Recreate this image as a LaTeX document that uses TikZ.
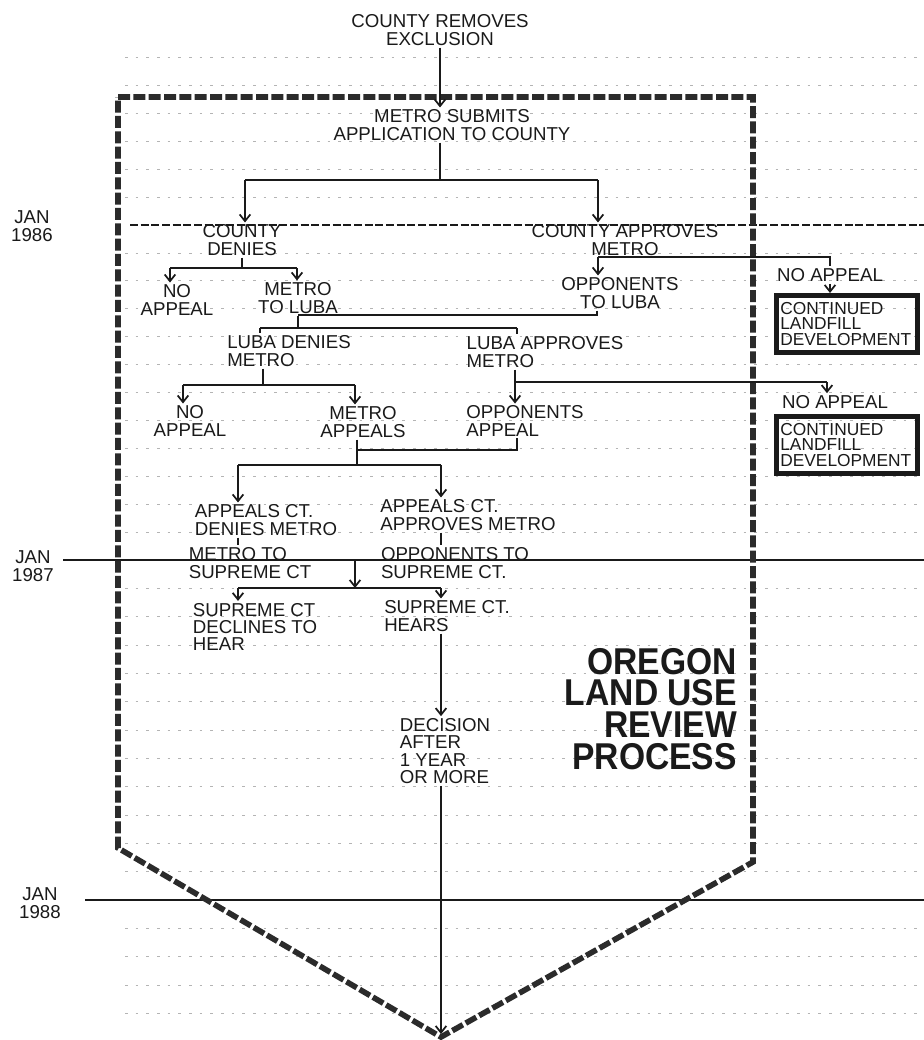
\documentclass[tikz,border=0pt]{standalone}
\usepackage{fontspec}
\setmainfont{Liberation Sans}
\newfontfamily\titfont[FakeStretch=0.9]{Liberation Sans}
\usetikzlibrary{arrows.meta,calc}
\definecolor{ctinta}{HTML}{1A1A1A}
\definecolor{cborde}{HTML}{2B2B2B}
\definecolor{cmes}{HTML}{B4B4B4}
\tikzset{
  rotulo/.style={font=\fontsize{14}{13}\selectfont,align=center,inner sep=1.5pt,text=ctinta},
  rotuloi/.style={rotulo,align=left},
  caja/.style={draw=ctinta,line width=3.5pt,font=\fontsize{13}{11.5}\selectfont,align=left,
               text width=100pt,inner sep=3pt,minimum height=43pt,text=ctinta},
  flecha/.style={-{Straight Barb[length=5pt,width=8pt]},draw=ctinta,line width=1.3pt},
  linea/.style={draw=ctinta,line width=1.3pt},
  borde/.style={draw=cborde,line width=4.2pt,dash pattern=on 9pt off 2.5pt},
  anio/.style={draw=ctinta,line width=0.8pt},
  aniod/.style={anio,dash pattern=on 6pt off 2pt},
  mes/.style={draw=cmes,line width=0.5pt,dash pattern=on 2pt off 6pt},
  titulo/.style={font=\titfont\bfseries\fontsize{28}{23.8}\selectfont,align=right,
                 inner sep=0pt,text=ctinta},
}
\begin{document}
\begin{tikzpicture}[x=0.75pt,y=-0.75pt]
\useasboundingbox (0,0) rectangle (924,1040);
\fill[white] (0,0) rectangle (924,1040);

% lineas de meses
\foreach \m in {1,...,6} {\draw[mes] (125,{225-27.9*\m}) -- (924,{225-27.9*\m});}
\foreach \m in {1,...,11} {\draw[mes] (125,{225+27.9*\m}) -- (924,{225+27.9*\m});}
\foreach \m in {1,...,11} {\draw[mes] (125,{560+28.33*\m}) -- (924,{560+28.33*\m});}
\foreach \m in {1,...,4} {\draw[mes] (125,{900+28.3*\m}) -- (924,{900+28.3*\m});}

% anios
\node[rotulo] (e86) at (32,226) {JAN\\1986};
\node[rotulo] (e87) at (33,566) {JAN\\1987};
\node[rotulo] (e88) at (40,903) {JAN\\1988};
\draw[aniod] (130,225) -- (924,225);
\draw[anio] (63,560) -- (924,560);
\draw[anio] (85,900) -- (924,900);

% contorno
\draw[borde] (118,97) -- (753,97) -- (753,862) -- (441,1037) -- (118,848) -- cycle;

% nodos
\node[rotulo] (rem) at (440,30) {COUNTY REMOVES\\EXCLUSION};
\node[rotulo] (sub) at (452,125) {METRO SUBMITS\\APPLICATION TO COUNTY};
\node[rotulo] (den) at (242,240) {COUNTY\\DENIES};
\node[rotulo] (app) at (625,240) {COUNTY APPROVES\\METRO};
\node[rotulo] (na1) at (177,300) {NO\\APPEAL};
\node[rotulo] (mtl) at (298,298) {METRO\\TO LUBA};
\node[rotulo] (opp) at (620,293) {OPPONENTS\\TO LUBA};
\node[rotulo] (na2) at (830,275) {NO APPEAL};
\node[caja] (cld1) at (847,324) {CONTINUED\\LANDFILL\\DEVELOPMENT};
\node[rotuloi] (ld) at (289,351) {LUBA DENIES\\METRO};
\node[rotuloi] (la) at (545,352) {LUBA APPROVES\\METRO};
\node[rotulo] (na3) at (190,421) {NO\\APPEAL};
\node[rotulo] (ma) at (363,422) {METRO\\APPEALS};
\node[rotuloi] (oa) at (525,421) {OPPONENTS\\APPEAL};
\node[rotulo] (na4) at (835,402) {NO APPEAL};
\node[caja] (cld2) at (847,445) {CONTINUED\\LANDFILL\\DEVELOPMENT};
\node[rotuloi] (acd) at (266,520) {APPEALS CT.\\DENIES METRO};
\node[rotuloi] (aca) at (468,515) {APPEALS CT.\\APPROVES METRO};
\node[rotuloi] (mts) at (250,563) {METRO TO\\SUPREME CT};
\node[rotuloi] (ots) at (455,563) {OPPONENTS TO\\SUPREME CT.};
\node[rotuloi] (scd) at (255,627) {SUPREME CT\\DECLINES TO\\HEAR};
\node[rotuloi] (sch) at (447,616) {SUPREME CT.\\HEARS};
\node[rotuloi] (dec) at (445,751) {DECISION\\AFTER\\1 YEAR\\OR MORE};
\node[titulo,anchor=east] (tit) at (737,709) {OREGON\\LAND USE\\REVIEW\\PROCESS};

% puntos de union
\coordinate (j1) at (440,180);
\coordinate (j1a) at (245,180);
\coordinate (j1b) at (598,180);
\coordinate (j2) at (598,257);
\coordinate (j3a) at (170,268);
\coordinate (j3b) at (297,268);
\coordinate (j4) at (597,315);
\coordinate (j5) at (298,328);
\coordinate (j5a) at (260,328);
\coordinate (j5b) at (517,328);
\coordinate (j6) at (263,385);
\coordinate (j6a) at (183,385);
\coordinate (j6b) at (355,385);
\coordinate (j7) at (515,382);
\coordinate (j7b) at (827,382);
\coordinate (j8) at (517,450);
\coordinate (j9) at (357,450);
\coordinate (j10) at (357,465);
\coordinate (j10a) at (238,465);
\coordinate (j10b) at (441,465);
\coordinate (j11) at (355,560);
\coordinate (j12) at (355,588);
\coordinate (j12a) at (238,588);
\coordinate (j12b) at (441,588);
\coordinate (apex) at (441,1034);

% conectores
\draw[flecha] (rem.south) -- (rem.south |- sub.north);
\draw[linea] (sub.south -| j1) -- (j1);
\draw[linea] (j1a) -- (j1b);
\draw[flecha] (j1a) -- (j1a |- den.north);
\draw[flecha] (j1b) -- (j1b |- app.north);

\draw[linea] (app.south -| j2) -- (j2);
\draw[flecha] (j2) -- (j2 |- opp.north);
\draw[linea] (j2) -- (j2 -| na2.north) -- (na2.north);
\draw[flecha] (na2.south) -- (na2.south |- cld1.north);

\draw[linea] (den.south) -- (den.south |- j3a);
\draw[linea] (j3a) -- (j3b);
\draw[flecha] (j3a) -- (j3a |- na1.north);
\draw[flecha] (j3b) -- (j3b |- mtl.north);

\draw[linea] (opp.south -| j4) -- (j4) -- (j4 -| mtl.south);
\draw[linea] (mtl.south) -- (j5);
\draw[linea] (j5a) -- (j5b);
\draw[linea] (j5a) -- (j5a |- ld.north);
\draw[linea] (j5b) -- (j5b |- la.north);

\draw[linea] (ld.south -| j6) -- (j6);
\draw[linea] (j6a) -- (j6b);
\draw[flecha] (j6a) -- (j6a |- na3.north);
\draw[flecha] (j6b) -- (j6b |- ma.north);

\draw[linea] (la.south -| j7) -- (j7) -- (j7b);
\draw[flecha] (j7) -- (j7 |- oa.north);
\draw[flecha] (j7b) -- (j7b |- na4.north);

\draw[linea] (oa.south -| j8) -- (j8) -- (j9);
\draw[linea] (ma.south -| j10) -- (j10);
\draw[linea] (j10a) -- (j10b);
\draw[flecha] (j10a) -- (j10a |- acd.north);
\draw[flecha] (j10b) -- (j10b |- aca.north);
\draw[linea] (acd.south -| j10a) -- (j10a |- mts.north);
\draw[linea] (aca.south -| j10b) -- (j10b |- ots.north);

\draw[flecha] (j11) -- (j12);
\draw[linea] (j12a) -- (j12b);
\draw[flecha] (j12a) -- (j12a |- scd.north);
\draw[flecha] (j12b) -- (j12b |- sch.north);
\draw[flecha] (sch.south -| j12b) -- (j12b |- dec.north);
\draw[flecha] (dec.south -| j12b) -- (apex);

\end{tikzpicture}
\end{document}
